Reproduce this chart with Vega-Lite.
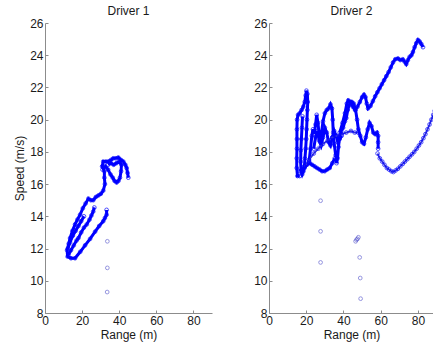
{
  "$schema": "https://vega.github.io/schema/vega-lite/v6.json",
  "padding": {"left": 13, "top": 5, "right": 0, "bottom": 5},
  "config": {
    "view": {"stroke": null},
    "font": "Liberation Sans",
    "axis": {"grid": false, "domainColor": "#8c8c8c", "tickColor": "#8c8c8c", "tickSize": -3, "labelFontSize": 12, "labelColor": "#1a1a1a", "titleFontSize": 12, "titleFontWeight": "normal", "titleColor": "#1a1a1a", "labelFlush": false, "labelPadding": 5, "titlePadding": 3},
    "title": {"fontSize": 12, "fontWeight": "normal", "color": "#1a1a1a", "offset": -1, "frame": "group"},
    "concat": {"spacing": 41}
  },
  "datasets": {
    "d1": [
      {"t":"a","i":0,"r":33.2,"s":14.4},{"t":"a","i":1,"r":33.2,"s":14.1},{"t":"a","i":2,"r":32.3,"s":13.9},{"t":"a","i":3,"r":31.4,"s":13.7},{"t":"a","i":4,"r":29.2,"s":13.4},{"t":"a","i":5,"r":27,"s":13.05},{"t":"a","i":6,"r":24.3,"s":12.6},{"t":"a","i":7,"r":21.6,"s":12.2},{"t":"a","i":8,"r":19,"s":11.8},{"t":"a","i":9,"r":16.2,"s":11.4},{"t":"a","i":10,"r":14,"s":11.4},{"t":"a","i":11,"r":12.2,"s":11.5},{"t":"a","i":12,"r":11.9,"s":11.9},{"t":"a","i":13,"r":12.8,"s":12.3},{"t":"a","i":14,"r":13.5,"s":12.65},{"t":"a","i":15,"r":14.8,"s":13.1},{"t":"a","i":16,"r":16.2,"s":13.5},{"t":"a","i":17,"r":17.5,"s":13.8},{"t":"a","i":18,"r":18.9,"s":14.1},{"t":"a","i":19,"r":20.4,"s":14.5},{"t":"a","i":20,"r":21.9,"s":14.8},{"t":"a","i":21,"r":23.4,"s":15.1},{"t":"a","i":22,"r":24.7,"s":15.0},{"t":"a","i":23,"r":26,"s":15.0},{"t":"a","i":24,"r":27.4,"s":15.2},{"t":"a","i":25,"r":28.8,"s":15.3},{"t":"a","i":26,"r":30.1,"s":15.4},{"t":"a","i":27,"r":31.4,"s":15.6},{"t":"a","i":28,"r":32.3,"s":16.0},{"t":"a","i":29,"r":32,"s":16.4},{"t":"a","i":30,"r":32,"s":16.8},{"t":"a","i":31,"r":30.8,"s":17.1},{"t":"a","i":32,"r":31.4,"s":17.4},{"t":"a","i":33,"r":32.8,"s":17.4},{"t":"a","i":34,"r":34.1,"s":17.4},{"t":"a","i":35,"r":35.5,"s":17.5},{"t":"a","i":36,"r":36.8,"s":17.6},{"t":"a","i":37,"r":38.2,"s":17.6},{"t":"a","i":38,"r":39.5,"s":17.65},{"t":"a","i":39,"r":41,"s":17.5},{"t":"a","i":40,"r":42.2,"s":17.4},{"t":"a","i":41,"r":43.3,"s":17.2},{"t":"a","i":42,"r":44,"s":17.0},{"t":"a","i":43,"r":44.5,"s":16.7},{"t":"a","i":44,"r":44.9,"s":16.4},
      {"t":"b","i":0,"r":31,"s":16.9},{"t":"b","i":1,"r":32.5,"s":17.1},{"t":"b","i":2,"r":34,"s":16.9},{"t":"b","i":3,"r":35.3,"s":16.6},{"t":"b","i":4,"r":36.5,"s":16.4},{"t":"b","i":5,"r":37.5,"s":16.2},{"t":"b","i":6,"r":38.6,"s":16.1},{"t":"b","i":7,"r":39.6,"s":16.2},{"t":"b","i":8,"r":40.4,"s":16.4},{"t":"b","i":9,"r":41,"s":16.8},{"t":"b","i":10,"r":41.2,"s":17.2},{"t":"b","i":11,"r":40,"s":17.4},{"t":"b","i":12,"r":38.5,"s":17.3},{"t":"b","i":13,"r":37,"s":17.2},{"t":"b","i":14,"r":35.5,"s":17.3},{"t":"b","i":15,"r":34,"s":17.2},
      {"t":"c","i":0,"r":12.6,"s":11.6},{"t":"c","i":1,"r":14,"s":11.9},{"t":"c","i":2,"r":15.5,"s":12.2},{"t":"c","i":3,"r":17,"s":12.5},{"t":"c","i":4,"r":18,"s":12.65},{"t":"c","i":5,"r":19.5,"s":13.0},{"t":"c","i":6,"r":21,"s":13.3},{"t":"c","i":7,"r":22.5,"s":13.5},{"t":"c","i":8,"r":24,"s":13.8},{"t":"c","i":9,"r":25,"s":14.05},{"t":"c","i":10,"r":26,"s":14.3},{"t":"c","i":11,"r":26.6,"s":14.55},
      {"t":"d","i":0,"r":12.3,"s":12.0},{"t":"d","i":1,"r":13.5,"s":12.4},{"t":"d","i":2,"r":15,"s":12.8},{"t":"d","i":3,"r":16.5,"s":13.1},{"t":"d","i":4,"r":18,"s":13.4},{"t":"d","i":5,"r":19.5,"s":13.7},{"t":"d","i":6,"r":21,"s":14.0}
    ],
    "d2": [
      {"t":"A","i":0,"r":16.5,"s":16.5},{"t":"A","i":1,"r":15.3,"s":16.5},{"t":"A","i":2,"r":14.9,"s":17.0},{"t":"A","i":3,"r":14.9,"s":17.6},{"t":"A","i":4,"r":15.0,"s":18.2},{"t":"A","i":5,"r":15.0,"s":18.8},{"t":"A","i":6,"r":15.0,"s":19.4},{"t":"A","i":7,"r":15.1,"s":20.0},{"t":"A","i":8,"r":15.6,"s":20.3},{"t":"A","i":9,"r":16.5,"s":20.4},{"t":"A","i":10,"r":17.5,"s":20.6},{"t":"A","i":11,"r":18.4,"s":20.8},{"t":"A","i":12,"r":19.2,"s":21.1},{"t":"A","i":13,"r":19.7,"s":21.5},{"t":"A","i":14,"r":20.1,"s":21.8},{"t":"A","i":15,"r":20.6,"s":21.6},{"t":"A","i":16,"r":20.8,"s":21.1},{"t":"A","i":17,"r":20.6,"s":20.6},{"t":"A","i":18,"r":20.4,"s":20.0},{"t":"A","i":19,"r":20.2,"s":19.4},{"t":"A","i":20,"r":20.0,"s":18.8},{"t":"A","i":21,"r":19.7,"s":18.2},{"t":"A","i":22,"r":19.3,"s":17.6},{"t":"A","i":23,"r":19.0,"s":17.1},{"t":"A","i":24,"r":18.5,"s":16.8},{"t":"A","i":25,"r":17.8,"s":16.6},{"t":"A","i":26,"r":17.2,"s":16.8},{"t":"A","i":27,"r":17.0,"s":17.4},{"t":"A","i":28,"r":17.1,"s":18.1},{"t":"A","i":29,"r":17.4,"s":18.8},{"t":"A","i":30,"r":17.7,"s":19.5},{"t":"A","i":31,"r":18.0,"s":20.2},
      {"t":"B","i":0,"r":16.5,"s":16.8},{"t":"B","i":1,"r":17.8,"s":16.9},{"t":"B","i":2,"r":19.1,"s":17.0},{"t":"B","i":3,"r":20.4,"s":17.2},{"t":"B","i":4,"r":21.8,"s":17.3},{"t":"B","i":5,"r":23.2,"s":17.2},{"t":"B","i":6,"r":24.5,"s":17.1},{"t":"B","i":7,"r":25.8,"s":17.0},{"t":"B","i":8,"r":27.2,"s":16.9},{"t":"B","i":9,"r":28.5,"s":16.8},{"t":"B","i":10,"r":29.9,"s":16.8},{"t":"B","i":11,"r":31.2,"s":16.9},{"t":"B","i":12,"r":32.6,"s":17.0},{"t":"B","i":13,"r":34,"s":17.3},{"t":"B","i":14,"r":35.3,"s":17.6},
      {"t":"C","i":0,"r":21.5,"s":17.4},{"t":"C","i":1,"r":22.3,"s":18.2},{"t":"C","i":2,"r":23,"s":19.0},{"t":"C","i":3,"r":23.6,"s":19.4},{"t":"C","i":4,"r":24.3,"s":19.1},{"t":"C","i":5,"r":25,"s":19.7},{"t":"C","i":6,"r":25.6,"s":20.3},{"t":"C","i":7,"r":26.3,"s":19.8},{"t":"C","i":8,"r":27,"s":19.0},{"t":"C","i":9,"r":27.5,"s":18.6},{"t":"C","i":10,"r":28.2,"s":19.2},{"t":"C","i":11,"r":29,"s":19.9},{"t":"C","i":12,"r":30,"s":20.4},{"t":"C","i":13,"r":31,"s":20.6},{"t":"C","i":14,"r":32,"s":20.7},{"t":"C","i":15,"r":33,"s":20.95},{"t":"C","i":16,"r":33.8,"s":20.7},{"t":"C","i":17,"r":34.2,"s":20.0},{"t":"C","i":18,"r":34.5,"s":19.2},{"t":"C","i":19,"r":35,"s":18.5},{"t":"C","i":20,"r":35.8,"s":17.8},{"t":"C","i":21,"r":36.3,"s":17.3},{"t":"C","i":22,"r":36.8,"s":17.6},{"t":"C","i":23,"r":37.3,"s":18.3},{"t":"C","i":24,"r":37.9,"s":18.9},{"t":"C","i":25,"r":38.8,"s":19.3},{"t":"C","i":26,"r":39.8,"s":19.5},{"t":"C","i":27,"r":40.8,"s":19.9},{"t":"C","i":28,"r":41.5,"s":20.1},{"t":"C","i":29,"r":42.3,"s":20.6},{"t":"C","i":30,"r":43,"s":20.9},{"t":"C","i":31,"r":44.5,"s":21.1},{"t":"C","i":32,"r":45.5,"s":21.0},{"t":"C","i":33,"r":46.5,"s":20.6},{"t":"C","i":34,"r":47.3,"s":20.0},{"t":"C","i":35,"r":48,"s":19.4},{"t":"C","i":36,"r":49,"s":19.0},{"t":"C","i":37,"r":50,"s":18.6},{"t":"C","i":38,"r":51,"s":18.5},{"t":"C","i":39,"r":52,"s":18.9},{"t":"C","i":40,"r":53,"s":19.4},{"t":"C","i":41,"r":54,"s":19.8},{"t":"C","i":42,"r":55,"s":19.6},{"t":"C","i":43,"r":56,"s":19.2},{"t":"C","i":44,"r":57,"s":19.1},{"t":"C","i":45,"r":58,"s":19.2},{"t":"C","i":46,"r":58.6,"s":19.0},{"t":"C","i":47,"r":58.6,"s":18.6},{"t":"C","i":48,"r":58.6,"s":18.2},
      {"t":"H","i":0,"r":24,"s":18.2},{"t":"H","i":1,"r":25,"s":18.9},{"t":"H","i":2,"r":26,"s":19.3},{"t":"H","i":3,"r":27,"s":18.7},{"t":"H","i":4,"r":28,"s":18.4},{"t":"H","i":5,"r":29,"s":18.9},{"t":"H","i":6,"r":30,"s":19.5},{"t":"H","i":7,"r":31,"s":19.2},{"t":"H","i":8,"r":32,"s":18.6},{"t":"H","i":9,"r":33,"s":18.4},{"t":"H","i":10,"r":34,"s":18.9},{"t":"H","i":11,"r":35,"s":19.3},{"t":"H","i":12,"r":36,"s":19.0},{"t":"H","i":13,"r":37,"s":18.6},{"t":"H","i":14,"r":38,"s":18.8},{"t":"H","i":15,"r":39,"s":19.0},
      {"t":"E","i":0,"r":38,"s":19.2},{"t":"E","i":1,"r":39.5,"s":19.8},{"t":"E","i":2,"r":40.8,"s":20.4},{"t":"E","i":3,"r":41.8,"s":21.0},{"t":"E","i":4,"r":42.6,"s":21.2},{"t":"E","i":5,"r":43.8,"s":21.1},{"t":"E","i":6,"r":45,"s":20.8},{"t":"E","i":7,"r":46.2,"s":20.6},{"t":"E","i":8,"r":47.5,"s":20.8},{"t":"E","i":9,"r":48.8,"s":21.1},{"t":"E","i":10,"r":50,"s":21.4},{"t":"E","i":11,"r":51,"s":21.55},{"t":"E","i":12,"r":51.8,"s":21.4},{"t":"E","i":13,"r":52.5,"s":21.0},{"t":"E","i":14,"r":53.2,"s":20.7},{"t":"E","i":15,"r":54.5,"s":20.85},{"t":"E","i":16,"r":55.8,"s":21.15},{"t":"E","i":17,"r":57,"s":21.45},{"t":"E","i":18,"r":58.2,"s":21.7},{"t":"E","i":19,"r":59.4,"s":21.95},{"t":"E","i":20,"r":60.6,"s":22.2},{"t":"E","i":21,"r":61.8,"s":22.45},{"t":"E","i":22,"r":63,"s":22.7},{"t":"E","i":23,"r":64.2,"s":22.95},{"t":"E","i":24,"r":65.4,"s":23.25},{"t":"E","i":25,"r":66.6,"s":23.55},{"t":"E","i":26,"r":67.8,"s":23.75},{"t":"E","i":27,"r":69.2,"s":23.8},{"t":"E","i":28,"r":70.5,"s":23.7},{"t":"E","i":29,"r":71.8,"s":23.75},{"t":"E","i":30,"r":72.8,"s":23.6},{"t":"E","i":31,"r":73.7,"s":23.45},{"t":"E","i":32,"r":74.6,"s":23.7},{"t":"E","i":33,"r":75.5,"s":23.9},{"t":"E","i":34,"r":76.5,"s":24.0},{"t":"E","i":35,"r":77.3,"s":24.2},{"t":"E","i":36,"r":78.2,"s":24.5},{"t":"E","i":37,"r":79.1,"s":24.75},{"t":"E","i":38,"r":80,"s":24.95},{"t":"E","i":39,"r":80.9,"s":24.85},{"t":"E","i":40,"r":81.8,"s":24.7},{"t":"E","i":41,"r":82.7,"s":24.5},
      {"t":"F","i":0,"r":19.1,"s":17.1},{"t":"F","i":1,"r":21.5,"s":17.5},{"t":"F","i":2,"r":24,"s":17.9},{"t":"F","i":3,"r":26.5,"s":18.2},{"t":"F","i":4,"r":29,"s":18.5},{"t":"F","i":5,"r":31.5,"s":18.7},{"t":"F","i":6,"r":34,"s":18.9},{"t":"F","i":7,"r":36.5,"s":19.0},{"t":"F","i":8,"r":39,"s":19.1},{"t":"F","i":9,"r":41.5,"s":19.2},{"t":"F","i":10,"r":44,"s":19.3},{"t":"F","i":11,"r":46,"s":19.2},{"t":"F","i":12,"r":47.8,"s":19.2},
      {"t":"G","i":0,"r":58.3,"s":17.9},{"t":"G","i":1,"r":59.5,"s":17.6},{"t":"G","i":2,"r":60.8,"s":17.4},{"t":"G","i":3,"r":62,"s":17.2},{"t":"G","i":4,"r":63.3,"s":17.0},{"t":"G","i":5,"r":64.5,"s":16.9},{"t":"G","i":6,"r":65.7,"s":16.8},{"t":"G","i":7,"r":66.8,"s":16.75},{"t":"G","i":8,"r":68,"s":16.85},{"t":"G","i":9,"r":69.2,"s":16.95},{"t":"G","i":10,"r":70.5,"s":17.1},{"t":"G","i":11,"r":71.8,"s":17.25},{"t":"G","i":12,"r":73,"s":17.4},{"t":"G","i":13,"r":74.3,"s":17.55},{"t":"G","i":14,"r":75.5,"s":17.7},{"t":"G","i":15,"r":76.8,"s":17.85},{"t":"G","i":16,"r":78,"s":18.0},{"t":"G","i":17,"r":79.3,"s":18.2},{"t":"G","i":18,"r":80.5,"s":18.4},{"t":"G","i":19,"r":81.7,"s":18.6},{"t":"G","i":20,"r":82.9,"s":18.85},{"t":"G","i":21,"r":84,"s":19.1},{"t":"G","i":22,"r":85.1,"s":19.4},{"t":"G","i":23,"r":86.2,"s":19.7},{"t":"G","i":24,"r":87.2,"s":20.0},{"t":"G","i":25,"r":88.2,"s":20.3},{"t":"G","i":26,"r":89,"s":20.55}
    ],
    "iso1": [
      {"r":33.6,"s":12.45},{"r":33.6,"s":10.8},{"r":33.5,"s":9.3}
    ],
    "iso2": [
      {"r":27.7,"s":14.97},{"r":27.7,"s":13.07},{"r":27.7,"s":11.14},{"r":46.5,"s":12.45},{"r":47,"s":12.55},{"r":47.5,"s":12.6},{"r":48,"s":12.7},{"r":48.7,"s":11.45},{"r":49.0,"s":10.17},{"r":49.2,"s":8.89}
    ]
  },
  "hconcat": [
    {
      "title": "Driver 1",
      "width": 167,
      "height": 290,
      "encoding": {
        "x": {"field": "r", "type": "quantitative", "scale": {"domain": [0, 90], "nice": false}, "axis": {"values": [0, 20, 40, 60, 80], "title": "Range (m)"}},
        "y": {"field": "s", "type": "quantitative", "scale": {"domain": [8, 26], "nice": false, "zero": false}, "axis": {"values": [8, 10, 12, 14, 16, 18, 20, 22, 24, 26], "title": "Speed (m/s)"}}
      },
      "layer": [
        {"data": {"name": "d1"}, "mark": {"type": "line", "color": "#0000ff", "strokeWidth": 3, "clip": true}, "encoding": {"detail": {"field": "t"}, "order": {"field": "i", "type": "quantitative"}}},
        {"data": {"name": "d1"}, "mark": {"type": "point", "shape": "circle", "filled": false, "color": "#0000ff", "size": 14, "strokeWidth": 1, "clip": true}},
        {"data": {"name": "iso1"}, "mark": {"type": "point", "shape": "circle", "filled": false, "color": "#4646c8", "size": 14, "strokeWidth": 0.8, "clip": true}}
      ]
    },
    {
      "title": "Driver 2",
      "width": 165,
      "height": 290,
      "encoding": {
        "x": {"field": "r", "type": "quantitative", "scale": {"domain": [0, 88.6], "nice": false}, "axis": {"values": [0, 20, 40, 60, 80], "title": "Range (m)"}},
        "y": {"field": "s", "type": "quantitative", "scale": {"domain": [8, 26], "nice": false, "zero": false}, "axis": {"values": [8, 10, 12, 14, 16, 18, 20, 22, 24, 26], "title": null}}
      },
      "layer": [
        {"data": {"name": "d2"}, "transform": [{"filter": "datum.t != 'F' && datum.t != 'G'"}], "mark": {"type": "line", "color": "#0000ff", "strokeWidth": 3, "clip": true}, "encoding": {"detail": {"field": "t"}, "order": {"field": "i", "type": "quantitative"}}},
        {"data": {"name": "d2"}, "transform": [{"filter": "datum.t == 'F' || datum.t == 'G'"}], "mark": {"type": "line", "color": "#3030e0", "strokeWidth": 1.8, "clip": true}, "encoding": {"detail": {"field": "t"}, "order": {"field": "i", "type": "quantitative"}}},
        {"data": {"name": "d2"}, "mark": {"type": "point", "shape": "circle", "filled": false, "color": "#0000ff", "size": 14, "strokeWidth": 1, "clip": true}},
        {"data": {"name": "iso2"}, "mark": {"type": "point", "shape": "circle", "filled": false, "color": "#4646c8", "size": 14, "strokeWidth": 0.8, "clip": true}}
      ]
    }
  ]
}
